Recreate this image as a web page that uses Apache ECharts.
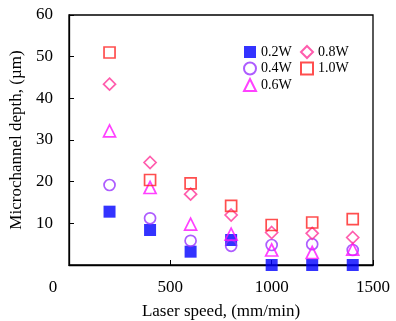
<!DOCTYPE html>
<html>
<head>
<meta charset="utf-8">
<script src="https://cdn.jsdelivr.net/npm/echarts@6/dist/echarts.min.js"></script>
<style>
  html, body { margin: 0; padding: 0; background: #fff; }
  #chart { width: 396px; height: 321px; }
</style>
</head>
<body>
<div id="chart"></div>
<script>
// Laser speed (mm/min) for each measurement
const speeds = [200, 400, 600, 800, 1000, 1200, 1400];

// Microchannel depth (µm) per laser power
const depth02W = [12.8, 8.4, 3.2, 6.0, 0, 0, 0];
const depth04W = [19.2, 11.2, 5.8, 4.6, 4.8, 5.0, 3.6];
const depth06W = [32.2, 18.6, 9.8, 7.4, 3.6, 3.0, 3.8];
const depth08W = [43.4, 24.6, 17.0, 12.0, 7.8, 7.6, 6.6];
const depth10W = [51.0, 20.4, 19.6, 14.2, 9.6, 10.2, 11.0];

const seriesNames = ['0.2W', '0.4W', '0.6W', '0.8W', '1.0W'];
const xTicks = [0, 500, 1000, 1500];
const yTicks = [0, 10, 20, 30, 40, 50, 60];

const serif = '"Liberation Serif", "DejaVu Serif", serif';

function pairs(values) {
  return speeds.map((s, i) => [s, values[i]]);
}

function hollow(name, values, symbol, color, size) {
  return {
    name: name,
    type: 'scatter',
    data: pairs(values),
    symbol: symbol,
    symbolSize: size,
    itemStyle: { color: 'rgba(255,255,255,0)', borderColor: color, borderWidth: 1.7 }
  };
}

const legendText = { fontFamily: serif, fontSize: 14, color: '#000' };

const chart = echarts.init(document.getElementById('chart'), null, { renderer: 'canvas' });

chart.setOption({
  animation: false,
  backgroundColor: '#fff',
  grid: {
    left: 69, right: 23, top: 15, bottom: 56,
    containLabel: false, outerBoundsMode: 'none',
    show: true, borderColor: '#000', borderWidth: 1.3, backgroundColor: 'transparent'
  },
  legend: [
    {
      data: seriesNames.slice(0, 3),
      orient: 'vertical', left: 238, top: 40,
      itemWidth: 12, itemHeight: 12, itemGap: 2.5,
      textStyle: legendText
    },
    {
      data: seriesNames.slice(3),
      orient: 'vertical', left: 295, top: 40,
      itemWidth: 12, itemHeight: 12, itemGap: 2.5,
      textStyle: legendText
    }
  ],
  xAxis: {
    type: 'value',
    min: xTicks[0], max: xTicks[xTicks.length - 1], interval: 500,
    name: 'Laser speed, (mm/min)',
    nameLocation: 'middle', nameGap: 38,
    nameTextStyle: { fontFamily: serif, fontSize: 17, color: '#000' },
    axisLine: { show: true, onZero: false, lineStyle: { color: '#000', width: 1.3 } },
    axisTick: { show: true, inside: true, length: 5, lineStyle: { color: '#000' } },
    axisLabel: {
      margin: 14,
      fontFamily: serif, fontSize: 17, color: '#000',
      formatter: v => v === 0 ? '{z|0}' : String(v),
      rich: { z: { fontFamily: serif, fontSize: 17, color: '#000', padding: [0, 32, 0, 0] } }
    },
    splitLine: { show: false }
  },
  yAxis: {
    type: 'value',
    min: yTicks[0], max: yTicks[yTicks.length - 1], interval: 10,
    name: 'Microchannel depth, (µm)',
    nameLocation: 'middle', nameGap: 28,
    nameTextStyle: { fontFamily: serif, fontSize: 17, color: '#000' },
    axisLine: { show: true, lineStyle: { color: '#000', width: 1.3 } },
    axisTick: { show: true, inside: true, length: 5, lineStyle: { color: '#000' } },
    axisLabel: {
      margin: 16,
      fontFamily: serif, fontSize: 17, color: '#000',
      formatter: v => v === 0 ? '' : String(v)
    },
    splitLine: { show: false }
  },
  series: [
    {
      name: seriesNames[0],
      type: 'scatter',
      data: pairs(depth02W),
      symbol: 'rect',
      symbolSize: 12,
      itemStyle: { color: '#0000ff' }
    },
    hollow(seriesNames[1], depth04W, 'circle', '#9933ff', 11),
    hollow(seriesNames[2], depth06W, 'triangle', '#ff11ff', 12),
    hollow(seriesNames[3], depth08W, 'diamond', '#ff3399', 12),
    hollow(seriesNames[4], depth10W, 'rect', '#ff2222', 11)
  ]
});
</script>
</body>
</html>
